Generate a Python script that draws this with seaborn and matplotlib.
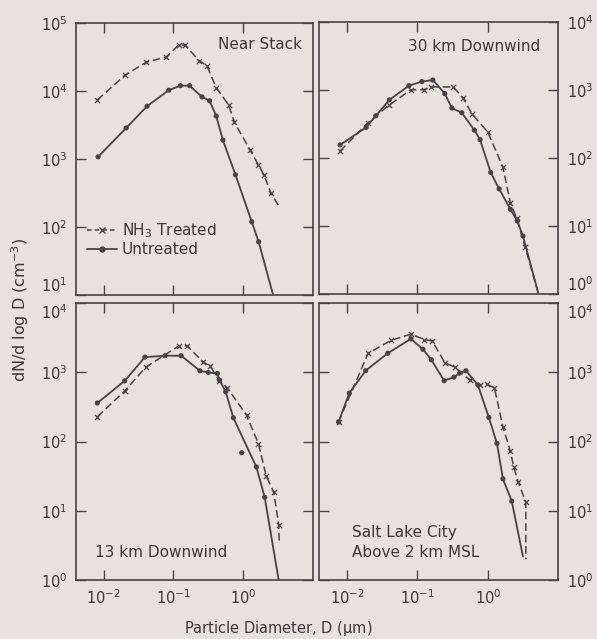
import numpy as np
import pandas as pd
import seaborn as sns
import matplotlib.pyplot as plt
from matplotlib.ticker import NullLocator, NullFormatter

sns.set_style("ticks")
plt.rcParams['font.family'] = ['DejaVu Sans']
plt.rcParams['mathtext.default'] = 'regular'

# ---- data (D in um, N in cm^-3) ----
# Near Stack
ns_unt_D = [0.0083, 0.021, 0.042, 0.086, 0.126, 0.171, 0.257, 0.331, 0.411, 0.513, 0.776, 1.33, 1.67]
ns_unt_N = [1080, 2870, 6000, 10300, 12000, 12000, 8200, 7200, 4300, 1900, 590, 120, 61]
ns_unt_tail = (2.7, 10)
ns_nh3_D = [0.0081, 0.020, 0.041, 0.079, 0.120, 0.148, 0.233, 0.302, 0.411, 0.617, 0.752, 1.26, 1.66, 2.0, 2.51]
ns_nh3_N = [7400, 17000, 26600, 31700, 48000, 47000, 28000, 23700, 11200, 6300, 3460, 1360, 820, 580, 315]
ns_nh3_tail = (3.39, 190)

# 30 km Downwind
d30_unt_D = [0.0080, 0.0187, 0.0257, 0.040, 0.076, 0.116, 0.166, 0.245, 0.309, 0.427, 0.646, 0.776,
             1.10, 1.45, 2.09, 2.63, 3.16]
d30_unt_N = [155, 280, 415, 710, 1150, 1320, 1390, 880, 540, 460, 255, 185, 61, 35, 17.6, 11.8, 7.1]
d30_unt_tail = (5.25, 1)
d30_nh3_D = [0.0080, 0.020, 0.039, 0.081, 0.123, 0.158, 0.324, 0.447, 0.596, 1.0, 1.64, 2.09, 2.57, 3.39]
d30_nh3_N = [126, 330, 590, 1000, 1000, 1100, 1100, 760, 440, 240, 73, 22, 13, 4.9]
d30_nh3_tail = (5.25, 1)

# 13 km Downwind
d13_unt_D = [0.0081, 0.020, 0.039, 0.076, 0.129, 0.240, 0.316, 0.427, 0.457, 0.562, 0.724, 0.955, 1.55, 2.04]
d13_unt_N = [360, 750, 1650, 1730, 1730, 1050, 990, 960, 770, 525, 220, 69, 43, 15.7]
d13_unt_tail = (3.24, 1)
d13_nh3_D = [0.0081, 0.020, 0.040, 0.120, 0.158, 0.263, 0.339, 0.457, 0.589, 1.12, 1.66, 2.14, 2.75, 3.24]
d13_nh3_N = [228, 535, 1180, 2400, 2400, 1420, 1210, 755, 600, 240, 93, 32, 18.6, 6.3]
d13_nh3_tail = (3.31, 3.3)

# Salt Lake City, above 2 km MSL
slc_unt_D = [0.0076, 0.0108, 0.0184, 0.038, 0.081, 0.120, 0.158, 0.240, 0.331, 0.398, 0.490, 0.724,
             1.035, 1.35, 1.64, 2.19]
slc_unt_N = [192, 500, 1050, 1880, 3030, 2140, 1510, 755, 850, 970, 1050, 655, 222, 94, 29, 13.8]
slc_unt_tail = (3.16, 2.2)
slc_nh3_D = [0.0076, 0.020, 0.042, 0.081, 0.126, 0.162, 0.245, 0.339, 0.550, 0.785, 0.977, 1.245,
             1.64, 2.09, 2.34, 2.69, 3.47]
slc_nh3_N = [192, 1880, 2870, 3550, 2950, 2830, 1380, 1180, 775, 645, 670, 590, 162, 73, 43, 26.5, 13.3]
slc_nh3_tail = (3.47, 2.0)

panels = [
    ("Near Stack", ns_unt_D, ns_unt_N, ns_unt_tail, ns_nh3_D, ns_nh3_N, ns_nh3_tail, (10, 1e5), []),
    ("30 km Downwind", d30_unt_D, d30_unt_N, d30_unt_tail, d30_nh3_D, d30_nh3_N, d30_nh3_tail, (1, 1e4), []),
    ("13 km Downwind", d13_unt_D, d13_unt_N, d13_unt_tail, d13_nh3_D, d13_nh3_N, d13_nh3_tail, (1, 1e4), [11]),
    ("Salt Lake City\nAbove 2 km MSL", slc_unt_D, slc_unt_N, slc_unt_tail, slc_nh3_D, slc_nh3_N,
     slc_nh3_tail, (1, 1e4), []),
]

bg = '#e5e2e0'
ink = '#4a4244'
txt = '#3e3638'

fig = plt.figure(figsize=(5.97, 6.39), dpi=100, facecolor=bg)
boxes = [
    [0.127, 0.538, 0.397, 0.426],
    [0.534, 0.540, 0.401, 0.426],
    [0.127, 0.092, 0.397, 0.434],
    [0.534, 0.092, 0.401, 0.434],
]
title_pos = [(0.955, 0.95, 'right', 'top'), (0.925, 0.935, 'right', 'top'),
             (0.08, 0.072, 'left', 'bottom'), (0.14, 0.072, 'left', 'bottom')]

axes = []
for i, (name, uD, uN, utail, tD, tN, ttail, ylim, skip) in enumerate(panels):
    ax = fig.add_axes(boxes[i])
    ax.set_facecolor(bg)
    axes.append(ax)

    # line through the points (outliers skipped) plus tail down to the axis
    line_u = pd.DataFrame({'D': [d for k, d in enumerate(uD) if k not in skip] + [utail[0]],
                           'N': [n for k, n in enumerate(uN) if k not in skip] + [utail[1]]})
    line_t = pd.DataFrame({'D': list(tD) + [ttail[0]], 'N': list(tN) + [ttail[1]]})

    sns.lineplot(data=line_t, x='D', y='N', ax=ax, sort=False, estimator=None,
                 color=ink, linestyle=(0, (5, 2.5)), linewidth=1.1)
    sns.scatterplot(x=tD, y=tN, ax=ax, marker='x', color=ink, s=14, linewidth=0.9)
    sns.lineplot(data=line_u, x='D', y='N', ax=ax, sort=False, estimator=None,
                 color=ink, linewidth=1.3)
    sns.scatterplot(x=uD, y=uN, ax=ax, marker='o', color=ink, s=14, edgecolor='none')

    ax.set_xscale('log')
    ax.set_yscale('log')
    ax.set_xlim(10 ** -2.4, 10 ** 1.0)
    ax.set_xlabel('')
    ax.set_ylabel('')

    ax.set_xticks([0.01, 0.1, 1])
    lo, hi = int(np.log10(ylim[0])), int(np.log10(ylim[1]))
    ax.set_yticks([10.0 ** k for k in range(lo, hi + 1)])
    ax.xaxis.set_minor_locator(NullLocator())
    ax.yaxis.set_minor_locator(NullLocator())
    ax.set_ylim(*ylim)

    right = i % 2 == 1
    bottom = i >= 2
    ax.tick_params(axis='both', which='major', direction='in', length=7, width=1.0,
                   color=ink, labelcolor=txt, labelsize=10.5,
                   top=True, bottom=True, left=True, right=True,
                   labelleft=not right, labelright=right, labelbottom=bottom, pad=6)
    if not bottom:
        ax.xaxis.set_major_formatter(NullFormatter())
    for s in ax.spines.values():
        s.set_color(ink)
        s.set_linewidth(1.2)

    tx, ty, ha, va = title_pos[i]
    ax.text(tx, ty, name, transform=ax.transAxes, ha=ha, va=va, fontsize=11,
            color=txt, linespacing=1.4)

    if i == 0:
        lh = [plt.Line2D([], [], color=ink, linestyle=(0, (3, 2)), marker='x', markersize=4,
                         linewidth=1.1),
              plt.Line2D([], [], color=ink, marker='o', markersize=3.5, linewidth=1.3)]
        ax.legend(lh, ['NH$_3$ Treated', 'Untreated'], loc='lower left', bbox_to_anchor=(0.0, 0.1),
                  frameon=False, fontsize=11, handlelength=2.0, handletextpad=0.3,
                  labelspacing=0.15, labelcolor=txt, borderaxespad=0.3)

fig.text(0.034, 0.515, 'dN/d log D (cm$^{-3}$)', rotation=90, ha='center', va='center',
         fontsize=11.5, color=txt)
fig.text(0.466, 0.017, 'Particle Diameter, D ($\\mu$m)', ha='center', va='center',
         fontsize=10.5, color=txt)

# nudge the end labels where the stacked panels meet so they do not collide
fig.canvas.draw()
for i, ax in enumerate(axes):
    lo, hi = ax.get_ylim()
    for t in ax.yaxis.get_major_ticks():
        loc = t.get_loc()
        for lab in (t.label1, t.label2):
            if i < 2 and np.isclose(loc, lo):
                lab.set_va('bottom')
            if i >= 2 and np.isclose(loc, hi):
                lab.set_va('top')

fig.savefig('out.png', dpi=100, facecolor=bg)
